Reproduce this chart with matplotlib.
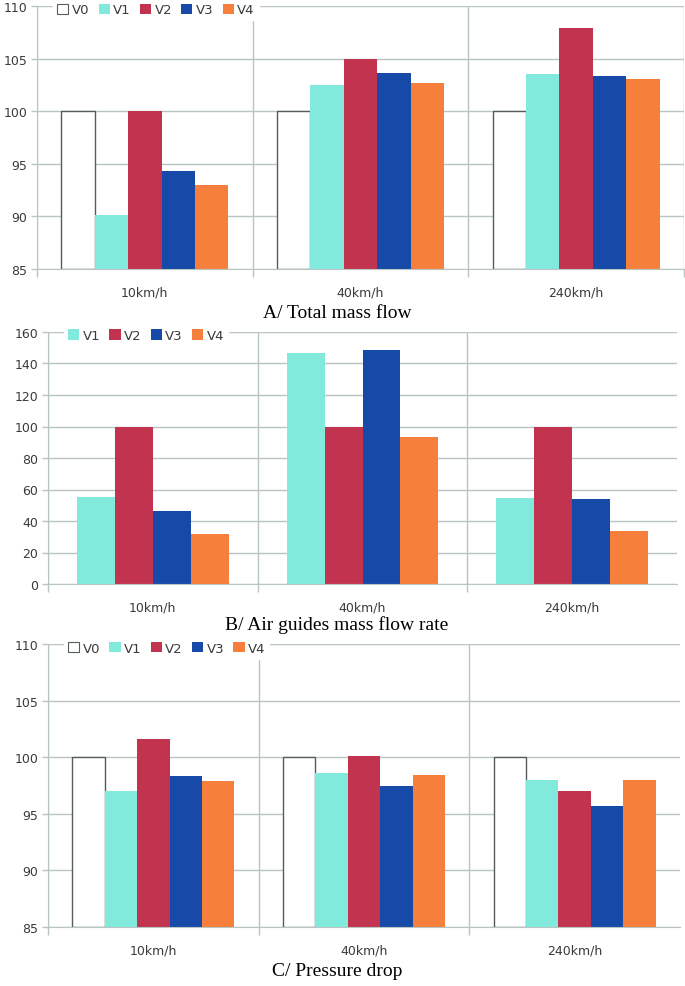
import matplotlib.pyplot as plt
from matplotlib.patches import Patch
import numpy as np

speeds = ["10km/h", "40km/h", "240km/h"]

# A/ Total mass flow
a_v0 = [100, 100, 100]
a_v1 = [90.1, 102.5, 103.5]
a_v2 = [100, 105, 107.9]
a_v3 = [94.3, 103.6, 103.3]
a_v4 = [93.0, 102.7, 103.1]

# B/ Air guides mass flow rate
b_v1 = [55.5, 146.5, 54.7]
b_v2 = [100, 100, 100]
b_v3 = [46.2, 148.8, 54.0]
b_v4 = [31.9, 93.1, 33.9]

# C/ Pressure drop
c_v0 = [100, 100, 100]
c_v1 = [97.0, 98.6, 98.0]
c_v2 = [101.6, 100.1, 97.0]
c_v3 = [98.3, 97.5, 95.65]
c_v4 = [97.9, 98.4, 98.0]

col_v1 = "#82e9dd"
col_v2 = "#c1334f"
col_v3 = "#1649a8"
col_v4 = "#f6803b"
grid_col = "#b9c5c1"
edge_v0 = "#555c5c"
txt_col = "#3a3a3a"

fig = plt.figure(figsize=(6.85, 9.87), dpi=100)


def draw_panel(rect, series, names, colors, ylim, yticks, width, title, title_y, right_line):
    ax = fig.add_axes(rect)
    ax.set_axisbelow(True)
    x = np.arange(len(speeds))
    n = len(series)
    handles = []
    for i, (vals, nm, c) in enumerate(zip(series, names, colors)):
        off = (i - (n - 1) / 2) * width
        if c is None:
            ax.bar(x + off, np.array(vals) - ylim[0], width, bottom=ylim[0],
                   facecolor="white", edgecolor=edge_v0, linewidth=1.0)
            handles.append(Patch(facecolor="white", edgecolor=edge_v0, linewidth=0.8, label=nm))
        else:
            ax.bar(x + off, np.array(vals) - ylim[0], width, bottom=ylim[0],
                   color=c, linewidth=0)
            handles.append(Patch(facecolor=c, edgecolor="none", label=nm))
    ax.set_xlim(-0.5, len(speeds) - 0.5)
    ax.set_ylim(*ylim)
    ax.set_yticks(yticks)
    ax.set_xticks(x)
    ax.set_xticklabels(speeds)
    stop = len(speeds) if right_line else len(speeds) - 1
    ax.set_xticks(np.arange(-0.5, stop), minor=True)
    ax.grid(axis="y", color=grid_col, linewidth=1.0)
    ax.grid(axis="x", which="minor", color=grid_col, linewidth=1.0)
    ax.tick_params(axis="x", which="major", length=0, pad=12, labelsize=9, labelcolor=txt_col)
    ax.tick_params(axis="x", which="minor", length=6, color=grid_col, width=1.0)
    ax.tick_params(axis="y", length=4, color=grid_col, width=1.0, labelsize=9, labelcolor=txt_col, pad=3)
    for s in ["top", "right"]:
        ax.spines[s].set_visible(False)
    ax.spines["left"].set_color(grid_col)
    ax.spines["bottom"].set_color(grid_col)
    leg = ax.legend(handles=handles, loc="center left", bbox_to_anchor=(0.015, 0.985),
                    ncol=n, frameon=True, fancybox=False, framealpha=1,
                    handlelength=0.85, handleheight=0.85, handletextpad=0.25,
                    columnspacing=0.7, fontsize=9.5, borderpad=0.3)
    leg.get_frame().set_edgecolor("white")
    for t in leg.get_texts():
        t.set_color(txt_col)
    fig.text(337 / 685, title_y, title, ha="center", va="center",
             fontsize=14, family="Liberation Serif")
    return ax


draw_panel([37 / 685, 1 - 270 / 987, 647 / 685, 263 / 987],
           [a_v0, a_v1, a_v2, a_v3, a_v4], ["V0", "V1", "V2", "V3", "V4"],
           [None, col_v1, col_v2, col_v3, col_v4],
           (85, 110), [85, 90, 95, 100, 105, 110], 0.155,
           "A/ Total mass flow", 1 - 313 / 987, True)

draw_panel([48 / 685, 1 - 585 / 987, 629 / 685, 252 / 987],
           [b_v1, b_v2, b_v3, b_v4], ["V1", "V2", "V3", "V4"],
           [col_v1, col_v2, col_v3, col_v4],
           (0, 160), [0, 20, 40, 60, 80, 100, 120, 140, 160], 0.181,
           "B/ Air guides mass flow rate", 1 - 625 / 987, False)

draw_panel([48 / 685, 1 - 928 / 987, 632 / 685, 283 / 987],
           [c_v0, c_v1, c_v2, c_v3, c_v4], ["V0", "V1", "V2", "V3", "V4"],
           [None, col_v1, col_v2, col_v3, col_v4],
           (85, 110), [85, 90, 95, 100, 105, 110], 0.154,
           "C/ Pressure drop", 1 - 972 / 987, False)

fig.savefig("out.png", dpi=100)
